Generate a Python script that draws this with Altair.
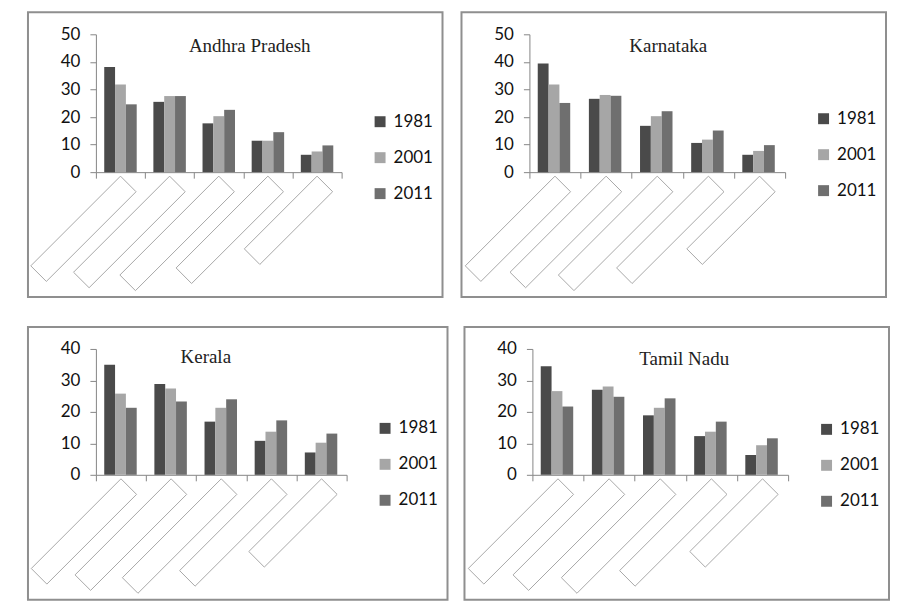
import math
import altair as alt
import pandas as pd

categories = ["A", "B", "C", "D", "E"]
years = ["1981", "2001", "2011"]
titles = ["Andhra Pradesh", "Karnataka", "Kerala", "Tamil Nadu"]

ap_1981 = [38.1, 25.5, 17.7, 11.4, 6.3]
ap_2001 = [31.8, 27.6, 20.3, 11.4, 7.5]
ap_2011 = [24.6, 27.6, 22.6, 14.5, 9.7]

ka_1981 = [39.4, 26.6, 16.8, 10.6, 6.3]
ka_2001 = [31.8, 28.0, 20.3, 11.8, 7.7]
ka_2011 = [25.1, 27.7, 22.1, 15.1, 9.8]

ke_1981 = [35.0, 28.9, 16.9, 10.8, 7.1]
ke_2001 = [25.8, 27.4, 21.3, 13.7, 10.2]
ke_2011 = [21.3, 23.3, 24.0, 17.3, 13.1]

tn_1981 = [34.5, 27.0, 18.9, 12.3, 6.3]
tn_2001 = [26.6, 28.1, 21.3, 13.7, 9.4]
tn_2011 = [21.7, 24.8, 24.3, 16.9, 11.6]

# styles
colors = ["#4a4a4a", "#a6a6a6", "#6f6f6f"]
AX = "#868686"
FONT = "Lato"
box_lengths = [127, 136, 140, 130, 103]


def box_path(L, w=22):
    s = math.sqrt(0.5)
    rx = w * s
    a = L * s
    return (f"M0,0L{rx:.1f},{rx:.1f}L{rx - a:.1f},{rx + a:.1f}"
            f"L{-a:.1f},{a:.1f}Z")


box_paths = [box_path(L) for L in box_lengths]


def panel(title, v81, v01, v11, ymax, W, H, tx, ty, ly):
    df = pd.DataFrame({
        "cat": categories * 3,
        "year": [y for y in years for _ in categories],
        "value": v81 + v01 + v11,
    })
    x = alt.X("cat:N", sort=categories,
              scale=alt.Scale(paddingInner=0, paddingOuter=0),
              axis=alt.Axis(title=None, labels=False, tickBand="extent",
                            tickSize=6, domainColor=AX, tickColor=AX,
                            grid=False))
    bars = alt.Chart(df).mark_bar().encode(
        x=x,
        xOffset=alt.XOffset("year:N", sort=years,
                            scale=alt.Scale(paddingInner=0, paddingOuter=0.77)),
        y=alt.Y("value:Q", scale=alt.Scale(domain=[0, ymax], nice=False),
                axis=alt.Axis(title=None, values=list(range(0, ymax + 1, 10)),
                              grid=False, tickSize=6, domainColor=AX,
                              tickColor=AX, labelFont=FONT, labelFontSize=17,
                              labelColor="#111", labelPadding=10)),
        color=alt.Color("year:N", sort=years,
                        scale=alt.Scale(domain=years, range=colors),
                        legend=alt.Legend(orient="none", legendX=W + 30,
                                          legendY=ly, title=None,
                                          symbolType="square", symbolSize=120,
                                          symbolStrokeWidth=0,
                                          labelFont=FONT, labelFontSize=17,
                                          labelColor="#111", rowPadding=18,
                                          labelOffset=5, padding=0)),
    )
    boxes = alt.Chart(pd.DataFrame({"cat": categories})).mark_point(
        filled=False, size=4, stroke="#a8a8a8", strokeWidth=1, opacity=1
    ).encode(
        x=alt.X("cat:N", sort=categories),
        y=alt.value(H + 4),
        shape=alt.Shape("cat:N", sort=categories,
                        scale=alt.Scale(domain=categories, range=box_paths),
                        legend=None),
    )
    frame = alt.Chart(pd.DataFrame({"k": [0]})).mark_rect(
        fillOpacity=0, stroke="#8f8f8f", strokeWidth=2
    ).encode(
        x=alt.value(-68), x2=alt.value(W + 101),
        y=alt.value(-22), y2=alt.value(H + 125),
    )
    txt = alt.Chart(pd.DataFrame({"t": [title]})).mark_text(
        font="Liberation Serif", fontSize=19, color="#222",
        baseline="middle", align="center"
    ).encode(x=alt.value(tx), y=alt.value(ty), text="t:N")
    return alt.layer(frame, bars, boxes, txt).properties(width=W, height=H)


ap = panel(titles[0], ap_1981, ap_2001, ap_2011, 50, 246, 138, 154, 12, 79)
ka = panel(titles[1], ka_1981, ka_2001, ka_2011, 50, 256, 138, 139, 12, 76)
ke = panel(titles[2], ke_1981, ke_2001, ke_2011, 40, 251, 126, 110, 8, 71)
tn = panel(titles[3], tn_1981, tn_2001, tn_2011, 40, 256, 126, 152, 10, 72)

res = dict(color="independent", shape="independent",
           x="independent", y="independent")
top = alt.hconcat(ap, ka, spacing=17).resolve_scale(**res).resolve_legend(
    color="independent", shape="independent")
bottom = alt.hconcat(ke, tn, spacing=15).resolve_scale(**res).resolve_legend(
    color="independent", shape="independent")

chart = alt.vconcat(top, bottom, spacing=28).resolve_scale(**res).resolve_legend(
    color="independent", shape="independent"
).properties(
    padding={"left": 19, "top": 3, "right": 0, "bottom": 0}
).configure_view(strokeWidth=0)

chart.save("out.html", embed_options={"renderer": "svg", "actions": False})
